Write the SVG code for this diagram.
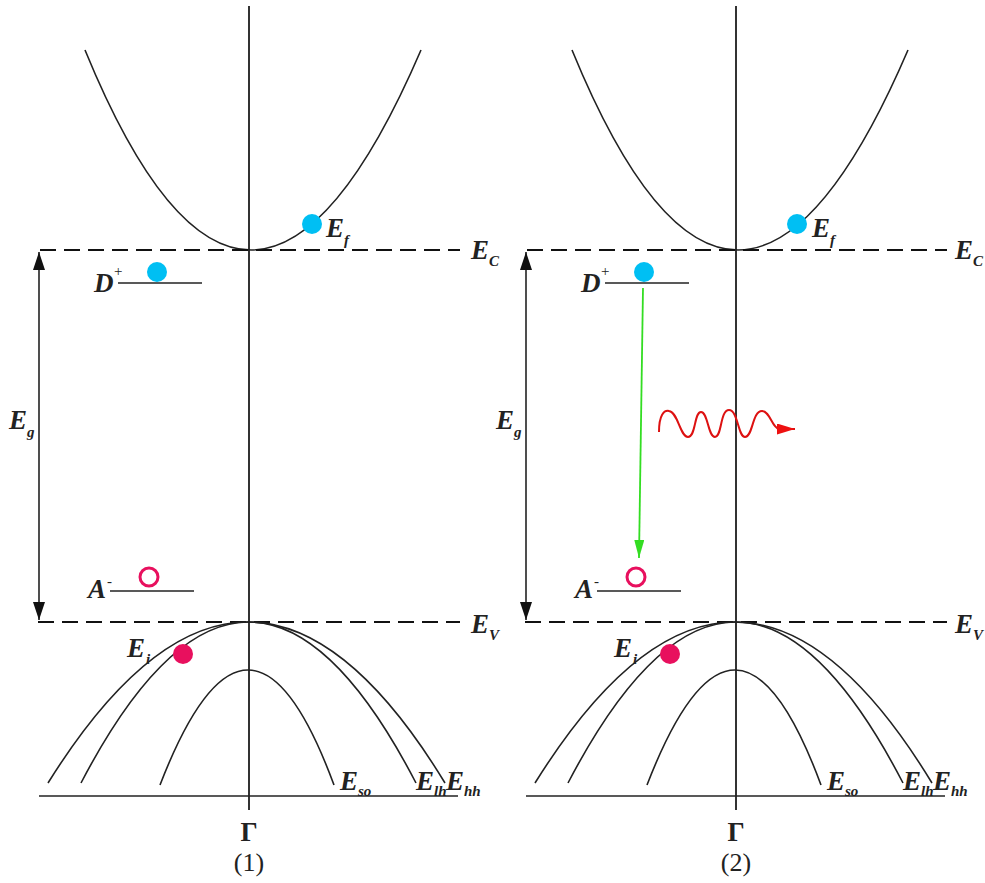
<svg xmlns="http://www.w3.org/2000/svg" width="985" height="883" viewBox="0 0 985 883">
<defs>
<style>
.ln{fill:none;stroke:#222;stroke-width:1.6}
.ax{fill:none;stroke:#333;stroke-width:2}
.dash{fill:none;stroke:#111;stroke-width:1.8;stroke-dasharray:16 8}
.E{font-family:"Liberation Serif",serif;font-style:italic;font-weight:bold;font-size:27px;fill:#222}
.s{font-family:"Liberation Serif",serif;font-style:italic;font-weight:bold;font-size:15px;fill:#222}
.sup{font-family:"Liberation Serif",serif;font-size:15px;fill:#222}
.G{font-family:"Liberation Serif",serif;font-weight:bold;font-size:27px;fill:#222;text-anchor:middle}
.cap{font-family:"Liberation Serif",serif;font-size:26px;fill:#222;text-anchor:middle}
.elec{fill:#00bff3}
.hole{fill:#e8105e}
.ring{fill:none;stroke:#e8105e;stroke-width:3}
</style>
<marker id="ah" viewBox="0 0 18 12" refX="18" refY="6" markerWidth="18" markerHeight="12" markerUnits="userSpaceOnUse" orient="auto-start-reverse">
<path d="M0,0 L18,6 L0,12 Z" fill="#111"/>
</marker>
<marker id="ahg" viewBox="0 0 18 10" refX="18" refY="5" markerWidth="18" markerHeight="10" markerUnits="userSpaceOnUse" orient="auto">
<path d="M0,0 L18,5 L0,10 Z" fill="#33dd22"/>
</marker>
<marker id="ahr" viewBox="0 0 18 11" refX="18" refY="5.5" markerWidth="18" markerHeight="11" markerUnits="userSpaceOnUse" orient="auto">
<path d="M0,0 L18,5.5 L0,11 Z" fill="#ee1111"/>
</marker>
</defs>
<rect width="985" height="883" fill="#fff"/>

<!-- Panel 1 -->
<g id="panel1">
  <g id="axis1"><line class="ax" x1="249" y1="6" x2="249" y2="810"/><line class="ln" x1="39" y1="796" x2="458" y2="796"/></g>
  <g id="cband1"><path class="ln" d="M85,50 Q249,450 421,50"/></g>
  <g id="ec1"><line class="dash" x1="40" y1="250" x2="460" y2="250"/><text class="E" x="471" y="259">E</text><text class="s" x="489" y="266" font-weight="normal">C</text></g>
  <g id="ev1"><line class="dash" x1="38" y1="622" x2="460" y2="622"/><text class="E" x="471" y="633">E</text><text class="s" x="489" y="640" font-weight="normal">V</text></g>
  <g id="hh1"><path class="ln" d="M48,783 Q249,461 445,783"/><text class="E" x="446" y="790">E</text><text class="s" x="464" y="796">hh</text></g>
  <g id="lh1"><path class="ln" d="M81,783 Q249,461 416,783"/><text class="E" x="416" y="790">E</text><text class="s" x="434" y="796">lh</text></g>
  <g id="so1"><path class="ln" d="M160,785 Q249,555 334,785"/><text class="E" x="340" y="790">E</text><text class="s" x="358" y="796">so</text></g>
  <g id="ef1"><circle class="elec" cx="312" cy="224" r="10"/><text class="E" x="326" y="237">E</text><text class="s" x="344" y="245">f</text></g>
  <g id="donor1"><line class="ln" x1="118" y1="283" x2="202" y2="283"/><circle class="elec" cx="157" cy="272" r="10"/><text class="E" x="94" y="292">D</text><text class="sup" x="114" y="276">+</text></g>
  <g id="acceptor1"><line class="ln" x1="110" y1="591" x2="194" y2="591"/><circle class="ring" cx="149" cy="577" r="9"/><text class="E" x="88" y="598">A</text><text class="sup" x="107" y="586">-</text></g>
  <g id="ei1"><circle class="hole" cx="183" cy="654" r="10"/><text class="E" x="127" y="657">E</text><text class="s" x="146" y="664" font-weight="normal">i</text></g>
  <g id="eg1"><line class="ln" x1="39" y1="252" x2="39" y2="620" marker-start="url(#ah)" marker-end="url(#ah)"/><text class="E" x="9" y="429">E</text><text class="s" x="27" y="437">g</text></g>
  <g id="gamma1"><text class="G" x="249" y="841">Γ</text><text class="cap" x="249" y="871">(1)</text></g>
</g>

<!-- Panel 2 -->
<g id="panel2">
  <g id="axis2"><line class="ax" x1="736" y1="6" x2="736" y2="810"/><line class="ln" x1="526" y1="796" x2="945" y2="796"/></g>
  <g id="cband2"><path class="ln" d="M572,50 Q736,450 908,50"/></g>
  <g id="ec2"><line class="dash" x1="527" y1="250" x2="947" y2="250"/><text class="E" x="955" y="259">E</text><text class="s" x="973" y="266" font-weight="normal">C</text></g>
  <g id="ev2"><line class="dash" x1="525" y1="622" x2="947" y2="622"/><text class="E" x="955" y="633">E</text><text class="s" x="973" y="640" font-weight="normal">V</text></g>
  <g id="hh2"><path class="ln" d="M535,783 Q736,461 932,783"/><text class="E" x="933" y="790">E</text><text class="s" x="951" y="796">hh</text></g>
  <g id="lh2"><path class="ln" d="M568,783 Q736,461 903,783"/><text class="E" x="903" y="790">E</text><text class="s" x="921" y="796">lh</text></g>
  <g id="so2"><path class="ln" d="M647,785 Q736,555 821,785"/><text class="E" x="827" y="790">E</text><text class="s" x="845" y="796">so</text></g>
  <g id="ef2"><circle class="elec" cx="797" cy="224" r="10"/><text class="E" x="812" y="237">E</text><text class="s" x="830" y="245">f</text></g>
  <g id="donor2"><line class="ln" x1="605" y1="283" x2="689" y2="283"/><circle class="elec" cx="644" cy="272" r="10"/><text class="E" x="581" y="292">D</text><text class="sup" x="601" y="276">+</text></g>
  <g id="acceptor2"><line class="ln" x1="597" y1="591" x2="681" y2="591"/><circle class="ring" cx="636" cy="577" r="9"/><text class="E" x="575" y="598">A</text><text class="sup" x="594" y="586">-</text></g>
  <g id="ei2"><circle class="hole" cx="670" cy="654" r="10"/><text class="E" x="614" y="657">E</text><text class="s" x="633" y="664" font-weight="normal">i</text></g>
  <g id="eg2"><line class="ln" x1="526" y1="252" x2="526" y2="620" marker-start="url(#ah)" marker-end="url(#ah)"/><text class="E" x="496" y="429">E</text><text class="s" x="514" y="437">g</text></g>
  <g id="gamma2"><text class="G" x="736" y="841">Γ</text><text class="cap" x="736" y="871">(2)</text></g>
</g>

<g id="connectors">
  <line x1="643" y1="288" x2="639" y2="558" stroke="#33dd22" stroke-width="1.8" marker-end="url(#ahg)"/>
  <path d="M659,432 C659,415 664,410 669,411 C678,412 680,437 688,437 C696,437 694,412 701,412 C708,412 708,437 715,437 C722,437 720,410 729,410 C738,410 738,437 745,437 C753,437 752,411 762,411 C770,411 772,428 779,429 L795,429" fill="none" stroke="#dd1111" stroke-width="2" marker-end="url(#ahr)"/>
</g>
</svg>
